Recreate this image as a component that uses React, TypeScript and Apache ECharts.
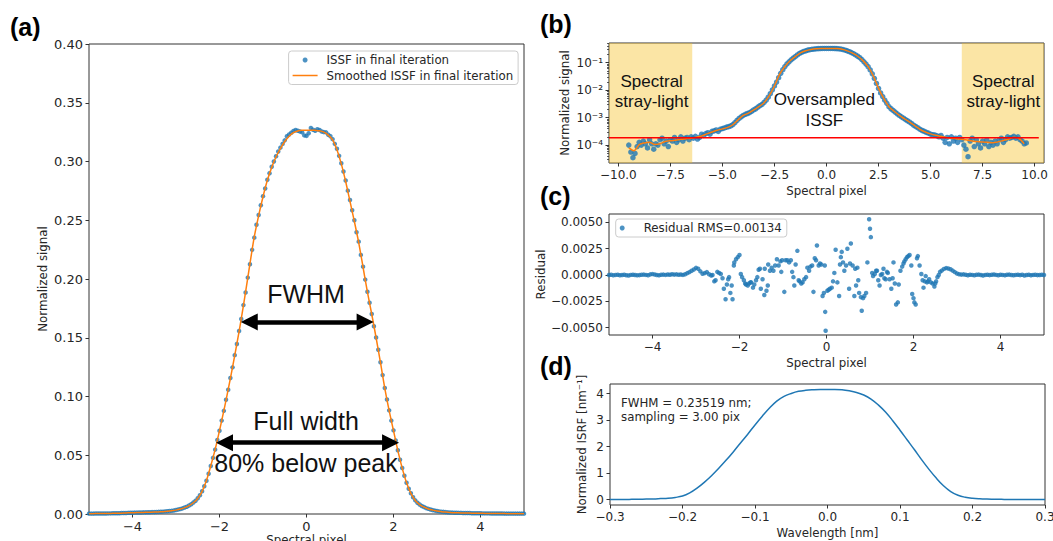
import React, { useEffect, useRef } from "react";
import * as echarts from "echarts";

// ---------------- Panel (a): ISSF (linear scale) ----------------
const ISSF_X0 = -5;
const ISSF_DX = 0.05;
const issfDots = [
  0.0003, 0.0003, 0.0003, 0.0004, 0.0004, 0.0004, 0.0004, 0.0004, 0.0004, 0.0005,
  0.0005, 0.0006, 0.0006, 0.0007, 0.0007, 0.0008, 0.0008, 0.0009, 0.0010, 0.0011,
  0.0011, 0.0012, 0.0012, 0.0013, 0.0013, 0.0014, 0.0014, 0.0015, 0.0015, 0.0016,
  0.0016, 0.0017, 0.0018, 0.0019, 0.0020, 0.0022, 0.0023, 0.0025, 0.0027, 0.0030,
  0.0034, 0.0038, 0.0043, 0.0048, 0.0055, 0.0062, 0.0072, 0.0083, 0.0098, 0.0113,
  0.0134, 0.0160, 0.0193, 0.0236, 0.0283, 0.0343, 0.0408, 0.0478, 0.0548, 0.0630,
  0.0708, 0.0795, 0.0878, 0.0972, 0.1058, 0.1157, 0.1248, 0.1352, 0.1447, 0.1558,
  0.1660, 0.1778, 0.1885, 0.2012, 0.2125, 0.2248, 0.2352, 0.2462, 0.2545, 0.2628,
  0.2705, 0.2770, 0.2845, 0.2900, 0.2955, 0.3000, 0.3045, 0.3085, 0.3118, 0.3150,
  0.3180, 0.3215, 0.3230, 0.3245, 0.3260, 0.3268, 0.3262, 0.3255, 0.3248, 0.3222,
  0.3218, 0.3240, 0.3285, 0.3270, 0.3262, 0.3275, 0.3268, 0.3255, 0.3250, 0.3248,
  0.3228, 0.3215, 0.3190, 0.3150, 0.3108, 0.3048, 0.2985, 0.2915, 0.2838, 0.2752,
  0.2672, 0.2585, 0.2500, 0.2398, 0.2318, 0.2205, 0.2105, 0.1995, 0.1892, 0.1798,
  0.1702, 0.1598, 0.1502, 0.1398, 0.1292, 0.1182, 0.1072, 0.0975, 0.0882, 0.0795,
  0.0712, 0.0625, 0.0542, 0.0462, 0.0392, 0.0325, 0.0266, 0.0215, 0.0176, 0.0142,
  0.0116, 0.0096, 0.0081, 0.0068, 0.0059, 0.0050, 0.0044, 0.0038, 0.0033, 0.0029,
  0.0025, 0.0022, 0.0020, 0.0018, 0.0016, 0.0014, 0.0013, 0.0012, 0.0011, 0.0011,
  0.0010, 0.0010, 0.0009, 0.0009, 0.0008, 0.0008, 0.0007, 0.0007, 0.0006, 0.0006,
  0.0006, 0.0005, 0.0005, 0.0005, 0.0005, 0.0004, 0.0004, 0.0004, 0.0004, 0.0004,
  0.0004, 0.0003, 0.0003, 0.0003, 0.0003, 0.0003, 0.0003, 0.0003, 0.0003, 0.0003,
  0.0003,
];
const SMOOTH_X0 = -5;
const SMOOTH_DX = 0.1;
const issfSmooth = [
  0.0003, 0.0003, 0.0004, 0.0004, 0.0004, 0.0005, 0.0006, 0.0007, 0.0008, 0.0010,
  0.0011, 0.0012, 0.0013, 0.0014, 0.0015, 0.0016, 0.0018, 0.0020, 0.0023, 0.0027,
  0.0033, 0.0042, 0.0054, 0.0071, 0.0096, 0.0132, 0.0192, 0.0285, 0.0410, 0.0550,
  0.0710, 0.0880, 0.1060, 0.1250, 0.1450, 0.1660, 0.1890, 0.2130, 0.2360, 0.2540,
  0.2700, 0.2840, 0.2950, 0.3040, 0.3110, 0.3170, 0.3215, 0.3245, 0.3260, 0.3265,
  0.3266, 0.3266, 0.3265, 0.3262, 0.3250, 0.3225, 0.3185, 0.3100, 0.2980, 0.2830,
  0.2660, 0.2490, 0.2310, 0.2100, 0.1890, 0.1700, 0.1500, 0.1290, 0.1070, 0.0880,
  0.0710, 0.0540, 0.0390, 0.0265, 0.0175, 0.0115, 0.0080, 0.0058, 0.0043, 0.0033,
  0.0025, 0.0020, 0.0016, 0.0013, 0.0011, 0.0010, 0.0009, 0.0008, 0.0007, 0.0006,
  0.0006, 0.0005, 0.0005, 0.0004, 0.0004, 0.0004, 0.0003, 0.0003, 0.0003, 0.0003,
  0.0003,
];
const aXTicks = [-4, -2, 0, 2, 4];
const aYTicks = [0, 0.05, 0.1, 0.15, 0.2, 0.25, 0.3, 0.35, 0.4];
const fwhmEnds = [-1.511, 1.543];
const fwhmLevel = 0.1635;
const fullWidthEnds = [-2.08, 2.128];
const fullWidthLevel = 0.0607;

// ---------------- Panel (b): ISSF (log scale) ----------------
const LOG_DOT_X0 = -9.5;
const LOG_DOT_DX = 0.1;
const logDots = [
  1.0e-4, 5.6e-5, 3.5e-5, 5.0e-5, 8.9e-5, 1.26e-4, 1.0e-4, 1.41e-4, 1.12e-4, 7.9e-5,
  1.58e-4, 1.12e-4, 7.1e-5, 1.12e-4, 1.0e-4, 1.58e-4, 1.78e-4, 1.12e-4, 1.41e-4, 8.9e-5,
  1.58e-4, 1.41e-4, 1.9e-4, 1.26e-4, 1.58e-4, 2.0e-4, 1.41e-4, 1.78e-4, 1.9e-4, 1.58e-4,
  2.0e-4, 1.78e-4, 2.1e-4, 1.66e-4, 1.9e-4, 2.5e-4, 2.24e-4, 2.63e-4, 2.82e-4, 2.5e-4,
  3.16e-4, 3.3e-4, 3.55e-4, 3.16e-4, 3.8e-4, 4.0e-4, 4.2e-4, 4.5e-4, 4.7e-4, 5.0e-4,
  5.6e-4, 6.6e-4, 7.9e-4, 9.3e-4, 1.07e-3, 1.2e-3, 1.32e-3, 1.41e-3, 1.51e-3, 1.7e-3,
  1.9e-3, 2.1e-3, 2.4e-3, 2.7e-3, 3.0e-3, 3.55e-3, 4.3e-3, 5.5e-3, 7.4e-3, 0.0102,
  0.0141, 0.0195, 0.0282, 0.0407, 0.055, 0.072, 0.089, 0.107, 0.126, 0.145,
  0.166, 0.19, 0.214, 0.234, 0.254, 0.269, 0.284, 0.295, 0.304, 0.311,
  0.317, 0.321, 0.324, 0.326, 0.3266, 0.3266, 0.3266, 0.3265, 0.326, 0.325,
  0.322, 0.318, 0.31, 0.298, 0.283, 0.266, 0.249, 0.231, 0.21, 0.189,
  0.17, 0.15, 0.129, 0.107, 0.088, 0.071, 0.054, 0.039, 0.0265, 0.0175,
  0.0115, 7.9e-3, 5.8e-3, 4.3e-3, 3.3e-3, 2.5e-3, 2.1e-3, 1.82e-3, 1.58e-3, 1.38e-3,
  1.2e-3, 1.07e-3, 9.5e-4, 8.5e-4, 7.6e-4, 6.8e-4, 6.0e-4, 5.2e-4, 4.7e-4, 4.2e-4,
  3.7e-4, 3.4e-4, 3.16e-4, 2.9e-4, 2.75e-4, 2.5e-4, 2.4e-4, 2.34e-4, 2.2e-4, 2.0e-4,
  2.24e-4, 1.78e-4, 1.26e-4, 1.9e-4, 1.12e-4, 2.0e-4, 1.41e-4, 1.78e-4, 1.26e-4, 1.9e-4,
  1.58e-4, 1.0e-4, 7.1e-5, 3.8e-5, 1.41e-4, 1.78e-4, 8.9e-5, 1.58e-4, 1.12e-4, 7.9e-5,
  1.41e-4, 1.12e-4, 1.58e-4, 8.9e-5, 1.26e-4, 1.0e-4, 1.41e-4, 1.12e-4, 1.58e-4, 1.78e-4,
  1.26e-4, 1.58e-4, 2.0e-4, 1.78e-4, 1.9e-4, 2.1e-4, 1.78e-4, 2.0e-4, 1.58e-4, 1.41e-4,
  1.12e-4, 1.2e-4,
];
const LOG_SMOOTH_X0 = -9.5;
const LOG_SMOOTH_DX = 0.25;
const logSmooth = [
  7.9e-5, 6.3e-5, 1.05e-4, 1.2e-4, 1.26e-4, 1.05e-4, 1.12e-4, 1.35e-4, 1.45e-4, 1.51e-4,
  1.62e-4, 1.7e-4, 1.78e-4, 1.95e-4, 2.14e-4, 2.57e-4, 3.0e-4, 3.47e-4, 3.9e-4, 4.4e-4,
  5.5e-4, 8.3e-4, 1.2e-3, 1.45e-3, 1.9e-3, 2.5e-3, 3.5e-3, 6.3e-3, 0.0141, 0.038,
  0.072, 0.117, 0.166, 0.225, 0.27, 0.3, 0.318, 0.3255, 0.3266, 0.3265,
  0.3225, 0.3045, 0.266, 0.2205, 0.17, 0.118, 0.071, 0.0325, 0.0116, 5.0e-3,
  2.5e-3, 1.7e-3, 1.2e-3, 9.0e-4, 6.8e-4, 5.0e-4, 3.7e-4, 3.0e-4, 2.57e-4, 2.29e-4,
  2.09e-4, 1.9e-4, 1.78e-4, 1.7e-4, 1.62e-4, 1.55e-4, 1.41e-4, 1.35e-4, 1.29e-4, 1.26e-4,
  1.23e-4, 1.32e-4, 1.48e-4, 1.66e-4, 1.95e-4, 1.74e-4, 1.12e-4,
];
const strayLevel = 1.84e-4;
const strayLineX = [-10.45, 10.2];
const strayLeftBand = [-10.45, -6.45];
const strayRightBand = [6.5, 10.45];
const bXTicks = [-10, -7.5, -5, -2.5, 0, 2.5, 5, 7.5, 10];
const bYTicks = [1e-4, 1e-3, 1e-2, 1e-1];
const bYMinorTicks = [
  3e-5, 4e-5, 5e-5, 6e-5, 7e-5, 8e-5, 9e-5,
  2e-4, 3e-4, 4e-4, 5e-4, 6e-4, 7e-4, 8e-4, 9e-4,
  2e-3, 3e-3, 4e-3, 5e-3, 6e-3, 7e-3, 8e-3, 9e-3,
  2e-2, 3e-2, 4e-2, 5e-2, 6e-2, 7e-2, 8e-2, 9e-2,
  2e-1, 3e-1, 4e-1, 5e-1,
];

// ---------------- Panel (c): residuals ----------------
const RES_LEFT_X0 = -5;
const RES_RIGHT_X0 = 2.65;
const RES_DX = 0.05;
const residLeftTail = [
  0, 0.00002, -0.00003, 0.00001, 0.00003, -0.00002, 0, 0.00002, -0.00002, -0.00004,
  0.00001, 0.00003, 0, -0.00003, -0.00001, 0.00002, 0.00004, 0.00001, -0.00002, 0.00006,
  0.00009, 0.00005, 0, -0.00003, 0.00002, 0.00004, 0.00001, 0.00005, 0.00003, 0.00007,
  0.00004, 0.00006, 0.00002, 0.00005, 0.00001, 0.00008, 0.00018, 0.00028, 0.0004, 0.00052,
  0.00068, 0.0006, 0.00035, 0.00012, 0.00018, 0.00028, 0.00008, -0.00005,
];
const residCore: [number, number][] = [
  [-2.62, 0.0], [-2.58, -0.0006], [-2.55, -0.0005], [-2.51, 0.0003], [-2.47, 0.0002],
  [-2.43, 0.0001], [-2.39, -0.0003], [-2.36, -0.0013], [-2.32, -0.0023], [-2.29, -0.0009],
  [-2.26, -0.0004], [-2.24, -0.0002], [-2.21, -0.0017], [-2.18, -0.001], [-2.16, -0.0023],
  [-2.13, 0.0009], [-2.12, 0.0012], [-2.08, 0.0015], [-2.04, 0.0017], [-2.0, 0.0019],
  [-1.97, 0.0001], [-1.94, -0.0002], [-1.9, -0.0005], [-1.87, -0.0008], [-1.85, -0.0009],
  [-1.81, -0.001], [-1.78, -0.0008], [-1.75, -0.0007], [-1.73, -0.0007], [-1.69, -0.0012],
  [-1.66, -0.0009], [-1.62, -0.0005], [-1.59, -0.0002], [-1.56, 0.0005], [-1.53, 0.0006],
  [-1.51, -0.0013], [-1.47, -0.0004], [-1.43, -0.0019], [-1.42, 0.0006], [-1.38, -0.0015],
  [-1.35, -0.001], [-1.34, 0.001], [-1.3, 0.0004], [-1.26, 0.0007], [-1.22, 0.0004],
  [-1.18, 0.0009], [-1.14, 0.0015], [-1.1, 0.0009], [-1.06, 0.0013], [-1.04, 0.0003],
  [-1.02, 0.0014], [-0.97, -0.0016], [-0.94, 0.0014], [-0.9, 0.0014], [-0.86, 0.0012],
  [-0.82, 0.0014], [-0.79, 0.0003], [-0.76, -0.0002], [-0.74, -0.001], [-0.71, 0.001],
  [-0.67, 0.0023], [-0.64, -0.0005], [-0.62, -0.0006], [-0.58, -0.0008], [-0.55, -0.0007],
  [-0.51, -0.0004], [-0.47, -0.0002], [-0.44, 0.0007], [-0.4, 0.0004], [-0.37, 0.0008],
  [-0.33, 0.0009], [-0.3, -0.0016], [-0.27, 0.0016], [-0.24, 0.0014], [-0.22, 0.0028],
  [-0.18, 0.0009], [-0.15, 0.0011], [-0.12, 0.001], [-0.09, -0.002], [-0.06, -0.0017],
  [-0.04, 0.0009], [-0.03, -0.0035], [-0.02, -0.0053], [0.02, -0.0015], [0.05, -0.0014],
  [0.08, -0.0013], [0.12, -0.0012], [0.15, -0.0006], [0.18, 0.0002], [0.21, 0.0024],
  [0.25, -0.0007], [0.29, -0.002], [0.31, 0.001], [0.33, 0.0017], [0.35, 0.0022],
  [0.38, 0.0012], [0.41, 0.0004], [0.45, 0.0009], [0.48, 0.0025], [0.52, -0.0013],
  [0.54, 0.0011], [0.56, 0.003], [0.6, 0.0009], [0.64, -0.002], [0.66, 0.0006],
  [0.68, -0.001], [0.71, 0.0007], [0.73, -0.0005], [0.75, -0.0017], [0.79, -0.0021],
  [0.81, -0.0034], [0.84, -0.0022], [0.87, -0.002], [0.91, -0.0017], [0.94, 0.0012],
  [0.98, 0.0053], [1.0, 0.0044], [1.02, 0.0036], [1.05, 0.0002], [1.07, -0.0001],
  [1.11, 0.0001], [1.14, 0.0004], [1.16, 0.0004], [1.19, -0.0005], [1.22, -0.001],
  [1.25, 0.0], [1.28, 0.0001], [1.31, 0.0006], [1.33, -0.0003], [1.36, -0.0004],
  [1.39, 0.0003], [1.41, 0.0002], [1.45, -0.0004], [1.49, -0.0013], [1.52, -0.0003],
  [1.54, 0.0012], [1.57, -0.0008], [1.6, -0.0028], [1.64, -0.0026], [1.66, -0.0009],
  [1.7, 0.0004], [1.74, 0.0008], [1.77, 0.0011], [1.79, 0.0013], [1.82, 0.0015],
  [1.85, 0.0017], [1.88, 0.0018], [1.91, 0.0019], [1.95, 0.0009], [1.97, -0.0018],
  [2.0, -0.0022], [2.02, -0.0026], [2.05, -0.0028], [2.08, 0.0016], [2.1, 0.0018],
  [2.14, 0.0009], [2.18, 0.0001], [2.21, -0.0005], [2.23, -0.0012], [2.26, -0.0006],
  [2.28, -0.0001], [2.31, -0.0007], [2.33, -0.0006], [2.36, -0.0004], [2.4, -0.0007],
  [2.44, -0.0008], [2.48, -0.0011], [2.5, -0.0008], [2.52, -0.0006], [2.55, -0.0002],
  [2.58, 0.0], [2.61, 0.0003],
];
const residRightTail = [
  0.00042, 0.00058, 0.00066, 0.00062, 0.00055, 0.00042, 0.00028, 0.00015, 0.00008, 0.00004,
  0.00006, 0.00002, -0.00002, 0.00003, 0.00001, -0.00003, 0.00002, 0.00004, 0, -0.00004,
  0.00001, 0.00003, -0.00001, 0.00002, 0.00005, 0.00001, -0.00002, 0.00003, 0.00001, -0.00003,
  0.00002, 0.00004, 0, -0.00002, 0.00001, 0.00003, -0.00001, 0.00002, -0.00004, 0,
  0.00002, -0.00002, 0.00001, 0.00003, -0.00001, 0, 0.00002, 0,
];
const cXTicks = [-4, -2, 0, 2, 4];
const cYTicks = [-0.005, -0.0025, 0, 0.0025, 0.005];

// ---------------- Panel (d): ISRF ----------------
const ISRF_X0 = -0.3;
const ISRF_DX = 0.01;
const isrf = [
  0.0, 0.0, 0.0, 0.005, 0.01, 0.015, 0.02, 0.035, 0.05, 0.08,
  0.13, 0.25, 0.43, 0.65, 0.9, 1.18, 1.48, 1.8, 2.14, 2.47,
  2.82, 3.15, 3.46, 3.72, 3.9, 4.01, 4.09, 4.13, 4.15, 4.16,
  4.16, 4.16, 4.15, 4.11, 4.05, 3.95, 3.8, 3.58, 3.31, 2.98,
  2.62, 2.25, 1.88, 1.5, 1.14, 0.81, 0.52, 0.3, 0.16, 0.085,
  0.045, 0.025, 0.015, 0.01, 0.005, 0.0, 0.0, 0.0, 0.0, 0.0,
  0.0,
];
const dXTicks = [-0.3, -0.2, -0.1, 0, 0.1, 0.2, 0.3];
const dYTicks = [0, 1, 2, 3, 4];

// ---------------- helpers ----------------
const onGrid = (x0: number, dx: number, ys: number[]) =>
  ys.map((y, i) => [Number((x0 + i * dx).toFixed(4)), y]);
const minus = (s: string) => s.replace("-", "\u2212");
const SUP: Record<string, string> = {
  "-": "\u207B", "0": "\u2070", "1": "\u00B9", "2": "\u00B2", "3": "\u00B3",
  "4": "\u2074", "5": "\u2075", "6": "\u2076", "7": "\u2077", "8": "\u2078", "9": "\u2079",
};
const pow10Label = (v: number) => {
  const e = String(Math.round(Math.log10(v)));
  return "10" + e.split("").map((c) => SUP[c] || c).join("");
};

const BLUE = "#1f77b4";
const ORANGE = "#ff7f0e";
const TXT = "#262626";
const FONT = "DejaVu Sans";

function axis(opts: any) {
  const { gridIndex, min, max, ticks, fmt, fontSize, name, nameGap, type, position, nameMoveOverlap } = opts;
  return {
    type: type || "value",
    gridIndex,
    position,
    min,
    max,
    name,
    nameGap,
    nameLocation: "middle",
    nameMoveOverlap: nameMoveOverlap === undefined ? true : nameMoveOverlap,
    nameTextStyle: { color: TXT, fontSize: 11.8, fontFamily: FONT },
    axisLine: { show: false, onZero: false },
    axisTick: { show: true, inside: false, length: 3.5, customValues: ticks, lineStyle: { color: "#333", width: 1 } },
    axisLabel: { show: true, customValues: ticks, formatter: fmt, color: TXT, fontSize, fontFamily: FONT, margin: 6 },
    splitLine: { show: false },
    minorTick: { show: false },
  };
}

export default function App() {
  const ref = useRef<HTMLDivElement>(null);
  useEffect(() => {
    document.body.style.margin = "0";
    document.body.style.overflow = "hidden";
    if (!ref.current) return;
    const chart = echarts.init(ref.current, undefined, { renderer: "svg" });

    const gridBase = {
      show: true,
      borderColor: "#333",
      borderWidth: 1,
      backgroundColor: "transparent",
      containLabel: false,
      outerBoundsMode: "none",
    };
    const ARROW_HALF = 0.195; // half head length, in spectral-pixel units of panel (a)

    const legendBase = {
      orient: "vertical",
      itemWidth: 25,
      itemHeight: 5,
      itemGap: 3.5,
      padding: [3, 5, 3, 4],
      backgroundColor: "rgba(255,255,255,0.8)",
      borderColor: "#cccccc",
      borderWidth: 1,
      borderRadius: 3,
      selectedMode: false,
      textStyle: { fontSize: 11.8, fontFamily: FONT, color: TXT, padding: [0, 0, 0, 4] },
    };

    const bigText = (text: string, x: number, y: number, size: number, extra: any = {}) => ({
      type: "text",
      x,
      y,
      z: 100,
      silent: true,
      style: {
        text,
        fill: "#111",
        fontSize: size,
        fontFamily: "Liberation Sans",
        align: "center",
        verticalAlign: "middle",
        ...extra,
      },
    });
    const panelLabel = (text: string, x: number, y: number) => ({
      type: "text",
      x,
      y,
      z: 100,
      silent: true,
      style: { text, fill: "#000", fontSize: 25, fontWeight: "bold", fontFamily: "Liberation Sans", verticalAlign: "middle" },
    });

    const option: any = {
      animation: false,
      backgroundColor: "#fff",
      grid: [
        { ...gridBase, left: 89, top: 44, width: 435, height: 470 },
        { ...gridBase, left: 609, top: 43, width: 435, height: 120 },
        { ...gridBase, left: 609, top: 214, width: 435, height: 121 },
        { ...gridBase, left: 610, top: 384, width: 435, height: 121 },
      ],
      xAxis: [
        axis({ gridIndex: 0, min: -5, max: 5, ticks: aXTicks, fmt: (v: number) => minus(String(v)), fontSize: 13, name: "Spectral pixel", nameGap: 20, nameMoveOverlap: false }),
        axis({ gridIndex: 1, min: -10.45, max: 10.45, ticks: bXTicks, fmt: (v: number) => minus(v.toFixed(1)), fontSize: 12, name: "Spectral pixel", nameGap: 22 }),
        axis({ gridIndex: 2, min: -5, max: 5, ticks: cXTicks, fmt: (v: number) => minus(String(v)), fontSize: 12, name: "Spectral pixel", nameGap: 22 }),
        axis({ gridIndex: 3, min: -0.3, max: 0.3, ticks: dXTicks, fmt: (v: number) => minus(v.toFixed(1)), fontSize: 12, name: "Wavelength [nm]", nameGap: 22 }),
      ],
      yAxis: [
        axis({ gridIndex: 0, position: "left", min: 0, max: 0.4, ticks: aYTicks, fmt: (v: number) => v.toFixed(2), fontSize: 13, name: "Normalized signal", nameGap: 40 }),
        axis({ gridIndex: 1, position: "left", type: "log", min: 2.24e-5, max: 0.515, ticks: bYTicks, fmt: pow10Label, fontSize: 12, name: "Normalized signal", nameGap: 38 }),
        {
          ...axis({ gridIndex: 1, position: "left", type: "log", min: 2.24e-5, max: 0.515, ticks: bYMinorTicks, fmt: () => "", fontSize: 12, name: "", nameGap: 0 }),
          offset: 0,
          axisLabel: { show: false },
          axisTick: { show: true, length: 2, customValues: bYMinorTicks, lineStyle: { color: "#333", width: 0.8 } },
        },
        axis({ gridIndex: 2, position: "left", min: -0.0057, max: 0.0058, ticks: cYTicks, fmt: (v: number) => minus(v.toFixed(4)), fontSize: 12, name: "Residual", nameGap: 55 }),
        axis({ gridIndex: 3, position: "left", min: -0.208, max: 4.368, ticks: dYTicks, fmt: (v: number) => String(v), fontSize: 12, name: "Normalized ISRF [nm\u207B\u00B9]", nameGap: 22 }),
      ],
      legend: [
        {
          ...legendBase,
          left: 288.6,
          top: 51,
          data: [
            { name: "ISSF in final iteration", icon: "circle" },
            { name: "Smoothed ISSF in final iteration", icon: "path://M0,0 L25,0 L25,1.5 L0,1.5 Z" },
          ],
        },
        {
          ...legendBase,
          left: 615.7,
          top: 219,
          data: [{ name: "Residual RMS=0.00134", icon: "circle" }],
        },
      ],
      series: [
        // ----- (a)
        {
          name: "ISSF in final iteration",
          type: "scatter",
          xAxisIndex: 0,
          yAxisIndex: 0,
          data: onGrid(ISSF_X0, ISSF_DX, issfDots),
          symbolSize: 4.5,
          itemStyle: { color: BLUE },
          z: 2,
        },
        {
          name: "Smoothed ISSF in final iteration",
          type: "line",
          xAxisIndex: 0,
          yAxisIndex: 0,
          data: onGrid(SMOOTH_X0, SMOOTH_DX, issfSmooth),
          symbol: "none",
          smooth: 0.3,
          lineStyle: { color: ORANGE, width: 1.5 },
          itemStyle: { color: ORANGE },
          z: 3,
        },
        {
          name: "arrows",
          type: "line",
          xAxisIndex: 0,
          yAxisIndex: 0,
          data: [],
          z: 6,
          markLine: {
            silent: true,
            symbol: ["triangle", "triangle"],
            symbolSize: [17, 17],
            label: { show: false },
            emphasis: { disabled: true },
            lineStyle: { color: "#000", width: 4.5, type: "solid", opacity: 1 },
            data: [
              [{ coord: [fwhmEnds[0] + ARROW_HALF, fwhmLevel] }, { coord: [fwhmEnds[1] - ARROW_HALF, fwhmLevel] }],
              [{ coord: [fullWidthEnds[0] + ARROW_HALF, fullWidthLevel] }, { coord: [fullWidthEnds[1] - ARROW_HALF, fullWidthLevel] }],
            ],
          },
        },
        // ----- (b)
        {
          name: "log dots",
          type: "scatter",
          xAxisIndex: 1,
          yAxisIndex: 1,
          data: onGrid(LOG_DOT_X0, LOG_DOT_DX, logDots),
          symbolSize: 5.5,
          itemStyle: { color: BLUE },
          z: 2,
        },
        {
          name: "log smooth",
          type: "line",
          xAxisIndex: 1,
          yAxisIndex: 1,
          data: onGrid(LOG_SMOOTH_X0, LOG_SMOOTH_DX, logSmooth),
          symbol: "none",
          smooth: 0.3,
          lineStyle: { color: ORANGE, width: 1.5 },
          z: 3,
        },
        {
          name: "stray bands",
          type: "line",
          xAxisIndex: 1,
          yAxisIndex: 1,
          data: [],
          z: 4,
          markArea: {
            silent: true,
            emphasis: { disabled: true },
            itemStyle: { color: "rgba(245,190,30,0.4)" },
            label: { show: false },
            data: [
              [{ xAxis: strayLeftBand[0] }, { xAxis: strayLeftBand[1] }],
              [{ xAxis: strayRightBand[0] }, { xAxis: strayRightBand[1] }],
            ],
          },
        },
        {
          name: "stray level",
          type: "line",
          xAxisIndex: 1,
          yAxisIndex: 1,
          data: [[strayLineX[0], strayLevel], [strayLineX[1], strayLevel]],
          symbol: "none",
          lineStyle: { color: "#ff0000", width: 1.5 },
          z: 5,
        },
        // ----- (c)
        {
          name: "Residual RMS=0.00134",
          type: "scatter",
          xAxisIndex: 2,
          yAxisIndex: 3,
          data: [
            ...onGrid(RES_LEFT_X0, RES_DX, residLeftTail),
            ...residCore,
            ...onGrid(RES_RIGHT_X0, RES_DX, residRightTail),
          ],
          symbolSize: 4.5,
          itemStyle: { color: BLUE },
          z: 2,
        },
        // ----- (d)
        {
          name: "ISRF",
          type: "line",
          xAxisIndex: 3,
          yAxisIndex: 4,
          data: onGrid(ISRF_X0, ISRF_DX, isrf),
          symbol: "none",
          smooth: 0.4,
          lineStyle: { color: BLUE, width: 1.5 },
          z: 2,
        },
      ],
      graphic: [
        panelLabel("(a)", 10, 27),
        panelLabel("(b)", 540, 24),
        panelLabel("(c)", 540, 196),
        panelLabel("(d)", 540, 366),
        bigText("FWHM", 306, 294, 25),
        bigText("Full width", 306, 420.6, 25),
        bigText("80% below peak", 306, 463, 25),
        bigText("Spectral\nstray-light", 651.7, 91.5, 17, { lineHeight: 20 }),
        bigText("Oversampled\nISSF", 824.3, 110.3, 17, { lineHeight: 20.7 }),
        bigText("Spectral\nstray-light", 1003.3, 91.5, 17, { lineHeight: 20 }),
        {
          type: "text",
          x: 621,
          y: 396,
          z: 100,
          silent: true,
          style: {
            text: "FWHM = 0.23519 nm;\nsampling = 3.00 pix",
            fill: TXT,
            fontSize: 11.8,
            lineHeight: 14,
            fontFamily: FONT,
            align: "left",
            verticalAlign: "top",
          },
        },
      ],
    };

    chart.setOption(option);
    return () => chart.dispose();
  }, []);

  return <div ref={ref} style={{ width: 1053, height: 541 }} />;
}
